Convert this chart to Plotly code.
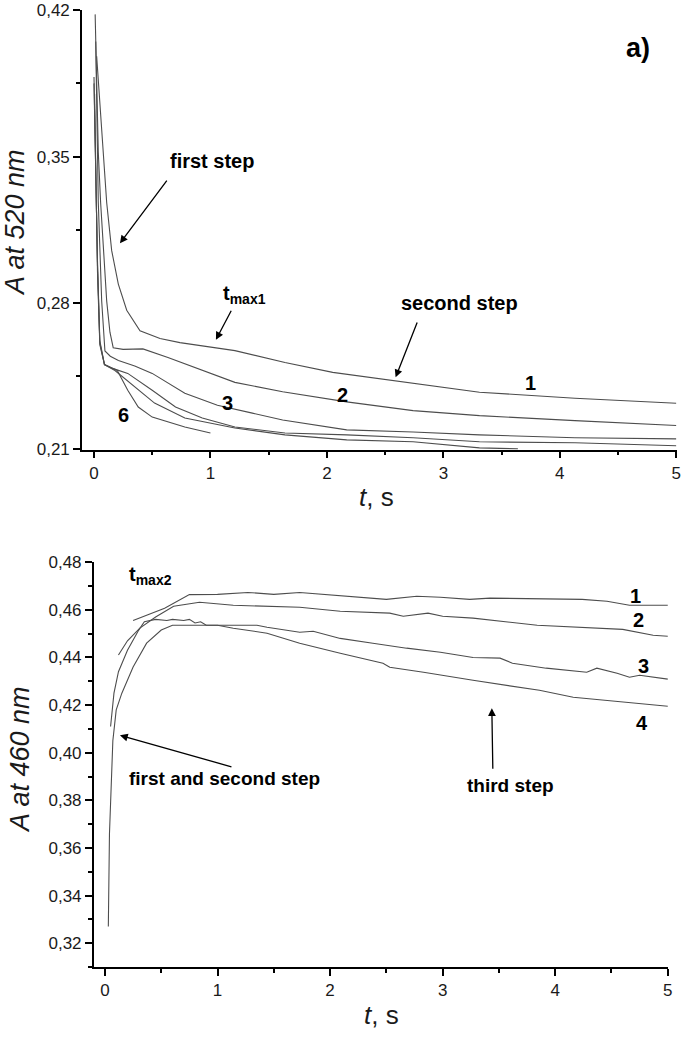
import plotly.graph_objects as go

# ---------------- Panel a) : A at 520 nm ----------------
a_t1 = [0.023, 0.052, 0.08, 0.109, 0.152, 0.209, 0.281, 0.395, 0.567, 0.738, 1.21, 1.64, 2.05, 2.60, 3.31, 4.13, 5.0]
a_A1 = [0.398, 0.376, 0.352, 0.328, 0.305, 0.289, 0.2765, 0.2667, 0.263, 0.261, 0.2572, 0.2515, 0.2468, 0.2425, 0.2373, 0.2344, 0.232]

a_t2 = [0.01, 0.037, 0.057, 0.08, 0.109, 0.137, 0.165, 0.25, 0.42, 0.635, 0.93, 1.21, 1.62, 2.17, 2.74, 3.31, 4.13, 5.0]
a_A2 = [0.418, 0.352, 0.328, 0.305, 0.281, 0.266, 0.2586, 0.2578, 0.258, 0.2539, 0.2477, 0.242, 0.2375, 0.2327, 0.2285, 0.2261, 0.2237, 0.2214]

a_t3 = [0.015, 0.037, 0.066, 0.094, 0.14, 0.21, 0.35, 0.50, 0.78, 1.06, 1.36, 1.62, 2.17, 2.74, 3.31, 4.13, 5.0]
a_A3 = [0.405, 0.328, 0.281, 0.257, 0.2545, 0.2525, 0.2498, 0.2463, 0.2368, 0.2311, 0.2273, 0.224, 0.2193, 0.2183, 0.2169, 0.2155, 0.215]

a_t4 = [0.0, 0.03, 0.05, 0.09, 0.16, 0.29, 0.50, 0.70, 0.93, 1.21, 1.64, 2.17, 2.74, 3.31, 4.13, 5.0]
a_A4 = [0.385, 0.300, 0.262, 0.2505, 0.2487, 0.2463, 0.2382, 0.2302, 0.225, 0.2207, 0.2178, 0.2169, 0.2155, 0.2136, 0.2131, 0.2117]

a_t5 = [0.005, 0.03, 0.05, 0.09, 0.18, 0.35, 0.52, 0.78, 1.21, 1.64, 2.17, 2.74, 3.03, 3.31, 3.64]
a_A5 = [0.38, 0.295, 0.26, 0.2505, 0.2477, 0.2397, 0.2321, 0.225, 0.2202, 0.2169, 0.2145, 0.2136, 0.2121, 0.2107, 0.2102]

a_t6 = [0.0, 0.03, 0.05, 0.09, 0.20, 0.29, 0.38, 0.50, 0.78, 1.0]
a_A6 = [0.388, 0.298, 0.261, 0.2505, 0.2477, 0.2382, 0.2302, 0.2254, 0.2207, 0.2178]

# ---------------- Panel b) : A at 460 nm ----------------
b_t1 = [0.25, 0.53, 0.75, 1.0, 1.27, 1.5, 1.73, 2.09, 2.5, 2.77, 2.98, 3.24, 3.42, 4.24, 4.46, 4.66, 5.0]
b_A1 = [0.4555, 0.4607, 0.4664, 0.4665, 0.4673, 0.4665, 0.4673, 0.4659, 0.4644, 0.4657, 0.4653, 0.4644, 0.4649, 0.4644, 0.4636, 0.4619, 0.4619]

b_t2 = [0.12, 0.2, 0.31, 0.45, 0.61, 0.84, 1.14, 1.5, 1.73, 2.09, 2.53, 2.65, 2.87, 3.0, 3.27, 3.84, 4.16, 4.6, 4.87, 5.0]
b_A2 = [0.441, 0.447, 0.4523, 0.457, 0.4615, 0.4632, 0.4619, 0.4615, 0.4611, 0.4594, 0.4586, 0.4573, 0.4586, 0.4573, 0.4565, 0.4535, 0.4527, 0.4518, 0.4493, 0.4489]

b_t3 = [0.03, 0.04, 0.07, 0.1, 0.15, 0.25, 0.37, 0.5, 0.6, 1.0, 1.35, 1.44, 1.73, 1.85, 2.09, 2.38, 2.68, 2.98, 3.27, 3.51, 3.62, 3.92, 4.28, 4.37, 4.55, 4.66, 4.75, 5.0]
b_A3 = [0.327, 0.366, 0.405, 0.418, 0.425, 0.436, 0.446, 0.4515, 0.4535, 0.4535, 0.4535, 0.4527, 0.4506, 0.451, 0.448, 0.446, 0.4439, 0.4422, 0.44, 0.4397, 0.4376, 0.4355, 0.4338, 0.4355, 0.4334, 0.4317, 0.4325, 0.4309]

b_t4 = [0.05, 0.08, 0.12, 0.2, 0.3, 0.35, 0.45, 0.55, 0.6, 0.7, 0.75, 0.8, 0.85, 0.9, 1.0, 1.14, 1.44, 1.73, 2.09, 2.47, 2.53, 2.83, 3.27, 3.57, 3.86, 4.16, 4.46, 4.75, 5.0]
b_A4 = [0.411, 0.425, 0.434, 0.443, 0.4515, 0.455, 0.456, 0.4555, 0.456, 0.4555, 0.456, 0.4545, 0.455, 0.4535, 0.4535, 0.4523, 0.4502, 0.446, 0.4418, 0.4376, 0.4359, 0.4338, 0.4304, 0.4283, 0.4262, 0.4233, 0.422, 0.4208, 0.4195]

# tick labels
a_xticks = [0, 1, 2, 3, 4, 5]
a_yticks = [0.21, 0.28, 0.35, 0.42]
a_yticktext = ["0,21", "0,28", "0,35", "0,42"]
b_xticks = [0, 1, 2, 3, 4, 5]
b_yticks = [0.32, 0.34, 0.36, 0.38, 0.40, 0.42, 0.44, 0.46, 0.48]
b_yticktext = ["0,32", "0,34", "0,36", "0,38", "0,40", "0,42", "0,44", "0,46", "0,48"]

LINE = dict(color="#4d4d4d", width=1.1)
FONT = "Liberation Sans, Arial, sans-serif"

fig = go.Figure()
for t, a in [(a_t1, a_A1), (a_t2, a_A2), (a_t3, a_A3), (a_t4, a_A4), (a_t5, a_A5), (a_t6, a_A6)]:
    fig.add_trace(go.Scatter(x=t, y=a, mode="lines", line=LINE, xaxis="x", yaxis="y",
                             showlegend=False, hoverinfo="skip"))
for t, a in [(b_t1, b_A1), (b_t2, b_A2), (b_t3, b_A3), (b_t4, b_A4)]:
    fig.add_trace(go.Scatter(x=t, y=a, mode="lines", line=LINE, xaxis="x2", yaxis="y2",
                             showlegend=False, hoverinfo="skip"))

TICKFONT = dict(family=FONT, size=17, color="#1a1a1a")
common = dict(showline=True, linecolor="black", linewidth=1.5, ticks="outside", ticklen=7,
              tickwidth=1.5, tickcolor="black", showgrid=False, zeroline=False, mirror=False,
              automargin=False, tickfont=TICKFONT, ticklabeloverflow="allow")
minor = dict(ticks="outside", ticklen=4, tickwidth=1.5, tickcolor="black", showgrid=False)

fig.update_layout(
    width=681, height=1050, margin=dict(l=0, r=0, t=0, b=0),
    paper_bgcolor="white", plot_bgcolor="white", showlegend=False,
    xaxis=dict(domain=[0.1204, 0.9934], range=[-0.103, 5.002], anchor="y",
               tickmode="array", tickvals=a_xticks, ticktext=[str(v) for v in a_xticks],
               minor=dict(tickmode="array", tickvals=[0.5, 1.5, 2.5, 3.5, 4.5], **minor), **common),
    yaxis=dict(domain=[0.5719, 0.9905], range=[0.2099, 0.4201], anchor="x",
               tickmode="array", tickvals=a_yticks, ticktext=a_yticktext,
               minor=dict(tickmode="array", tickvals=[0.245, 0.315, 0.385], **minor), **common),
    xaxis2=dict(domain=[0.1376, 0.9809], range=[-0.1, 5.002], anchor="y2",
                tickmode="array", tickvals=b_xticks, ticktext=[str(v) for v in b_xticks],
                minor=dict(tickmode="array", tickvals=[0.5, 1.5, 2.5, 3.5, 4.5], **minor), **common),
    yaxis2=dict(domain=[0.0790, 0.4648], range=[0.31, 0.4801], anchor="x2",
                tickmode="array", tickvals=b_yticks, ticktext=b_yticktext,
                minor=dict(tickmode="array", tickvals=[0.31, 0.33, 0.35, 0.37, 0.39, 0.41, 0.43, 0.45, 0.47], **minor),
                **common),
)

ann = []
def label(x, y, text, xr, yr, size=20, xanchor="center"):
    ann.append(dict(x=x, y=y, xref=xr, yref=yr, text=text, showarrow=False, xanchor=xanchor,
                    font=dict(family=FONT, size=size, color="black")))

def arrow(x, y, ax, ay, xr, yr):
    ann.append(dict(x=x, y=y, ax=ax, ay=ay, xref=xr, yref=yr, axref=xr, ayref=yr, text="",
                    showarrow=True, arrowhead=2, arrowsize=1.2, arrowwidth=1.3, arrowcolor="black"))

# panel a annotations
label(1.013, 0.3480, "<b>first step</b>", "x", "y")
arrow(0.223, 0.3085, 0.635, 0.3392, "x", "y")
label(1.09, 0.2838, "<b>t<sub>max1</sub></b>", "x", "y", size=20, xanchor="left")
arrow(1.047, 0.2624, 1.185, 0.2770, "x", "y")
label(3.14, 0.2800, "<b>second step</b>", "x", "y")
arrow(2.59, 0.2444, 2.78, 0.2714, "x", "y")
label(4.67, 0.4020, "<b>a)</b>", "x", "y", size=27)
label(3.75, 0.2416, "<b>1</b>", "x", "y", size=20)
label(2.13, 0.2359, "<b>2</b>", "x", "y", size=20)
label(1.15, 0.2320, "<b>3</b>", "x", "y", size=20)
label(0.25, 0.2264, "<b>6</b>", "x", "y", size=20)

# panel b annotations
label(4.60, 0.4885, "<b>b)</b>", "x2", "y2", size=27)
label(0.20, 0.4745, "<b>t<sub>max2</sub></b>", "x2", "y2", size=20, xanchor="left")
label(1.066, 0.3893, "<b>first and second step</b>", "x2", "y2", size=19)
arrow(0.133, 0.4073, 1.137, 0.3939, "x2", "y2")
label(3.60, 0.3863, "<b>third step</b>", "x2", "y2", size=19)
arrow(3.437, 0.4187, 3.446, 0.3926, "x2", "y2")
label(4.716, 0.4657, "<b>1</b>", "x2", "y2", size=20)
label(4.742, 0.4556, "<b>2</b>", "x2", "y2", size=20)
label(4.780, 0.4363, "<b>3</b>", "x2", "y2", size=20)
label(4.770, 0.4124, "<b>4</b>", "x2", "y2", size=20)

# axis titles
def ptitle(px, py, text, angle=0, size=27):
    ann.append(dict(x=px / 681, y=1 - py / 1050, xref="paper", yref="paper", text=text,
                    showarrow=False, textangle=angle, xanchor="center", yanchor="middle",
                    font=dict(family=FONT, size=size, color="#1a1a1a")))

ptitle(15, 223, "<i>A at 520 nm</i>", -90)
ptitle(20, 760, "<i>A at 460 nm</i>", -90)
ptitle(376, 497, "<i>t</i>, s", size=26)
ptitle(381, 1015, "<i>t</i>, s", size=26)

fig.update_layout(annotations=ann)
fig.write_html("out.html", config={"displayModeBar": False},
               post_script="document.body.style.margin='0px';document.body.style.overflow='hidden';")
